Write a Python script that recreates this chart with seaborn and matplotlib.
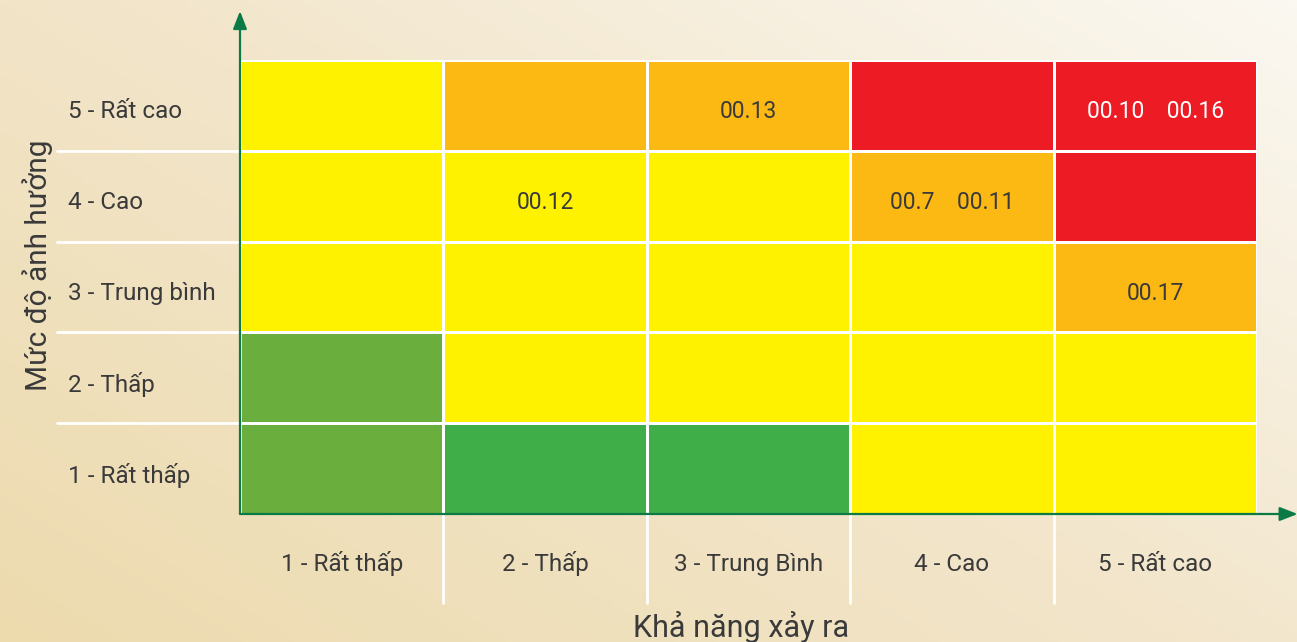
import numpy as np
import pandas as pd
import matplotlib.pyplot as plt
import seaborn as sns
from matplotlib.colors import ListedColormap, LinearSegmentedColormap
from matplotlib.transforms import ScaledTranslation

# y: impact (top to bottom), x: likelihood
impact_labels = ["5 - Rất cao", "4 - Cao", "3 - Trung bình", "2 - Thấp", "1 - Rất thấp"]
likelihood_labels = ["1 - Rất thấp", "2 - Thấp", "3 - Trung Bình", "4 - Cao", "5 - Rất cao"]

# risk level per cell: 0 light green, 1 green, 2 yellow, 3 orange, 4 red
row_5 = [2, 3, 3, 4, 4]
row_4 = [2, 2, 2, 3, 4]
row_3 = [2, 2, 2, 2, 3]
row_2 = [0, 2, 2, 2, 2]
row_1 = [0, 1, 1, 2, 2]

# risk codes placed in cells
codes_5 = ["", "", "00.13", "", "00.10    00.16"]
codes_4 = ["", "00.12", "", "00.7    00.11", ""]
codes_3 = ["", "", "", "", "00.17"]
codes_2 = ["", "", "", "", ""]
codes_1 = ["", "", "", "", ""]

level_colors = ["#6AAE3E", "#3FAE49", "#FFF200", "#FDB913", "#ED1C24"]
text_dark = "#3A3A3A"
axis_green = "#0B7A46"

levels = pd.DataFrame([row_5, row_4, row_3, row_2, row_1],
                      index=impact_labels, columns=likelihood_labels)
codes = np.array([codes_5, codes_4, codes_3, codes_2, codes_1], dtype=object)

sns.set_theme(style="white")
plt.rcParams['font.family'] = ['Roboto', 'DejaVu Sans']

fig = plt.figure(figsize=(12.97, 6.42), dpi=100)

# background gradient
bg = fig.add_axes([0, 0, 1, 1])
gx, gy = np.meshgrid(np.linspace(0, 1, 300), np.linspace(0, 1, 150))
grad = np.clip(0.55 * gx + 0.45 * (1 - gy), 0, 1)
bg_cmap = LinearSegmentedColormap.from_list("bg", ["#EDDBAE", "#F2E5CA", "#FBF8F1"])
bg.imshow(grad, cmap=bg_cmap, aspect="auto", extent=[0, 1, 0, 1], origin="upper")
bg.axis("off")

W, H = 1297, 642
left, right, top, bottom = 240, 1257, 60, 514
ax = fig.add_axes([left / W, 1 - bottom / H, (right - left) / W, (bottom - top) / H])

sns.heatmap(levels, ax=ax, cmap=ListedColormap(level_colors), vmin=-0.5, vmax=4.5,
            cbar=False, linewidths=2, linecolor="white",
            annot=codes, fmt="", annot_kws={"fontsize": 16.5, "va": "center_baseline"})

down = ScaledTranslation(0, -4 / 100, fig.dpi_scale_trans)
for t in ax.texts:
    x, y = t.get_position()
    lvl = levels.iloc[int(y), int(x)]
    t.set_color("white" if lvl == 4 else text_dark)
    t.set_transform(t.get_transform() + down)

# tick labels
ax.tick_params(axis="both", length=0)
ax.tick_params(axis="y", pad=124)
ax.tick_params(axis="x", pad=41)
ax.set_yticklabels(impact_labels, rotation=0, ha="left", va="center_baseline",
                   fontsize=17.5, color=text_dark)
ax.set_xticklabels(likelihood_labels, rotation=0, va="baseline",
                   fontsize=17.5, color=text_dark)
for lab in ax.get_yticklabels():
    lab.set_transform(lab.get_transform() + down)
ax.set_xlabel("")
ax.set_ylabel("")

# white guide lines outside the grid
for r in range(1, 5):
    ax.plot([-0.9, 0], [r, r], color="white", lw=2, clip_on=False)
for c in range(1, 5):
    ax.plot([c, c], [5, 5.98], color="white", lw=2, clip_on=False)

# arrow axes
ax.annotate("", xy=(0, 1.108), xytext=(0, 0), xycoords="axes fraction",
            arrowprops=dict(arrowstyle="-|>,head_width=0.35,head_length=0.9",
                            color=axis_green, lw=1.6, shrinkA=0, shrinkB=0))
ax.annotate("", xy=(1.04, 0), xytext=(0, 0), xycoords="axes fraction",
            arrowprops=dict(arrowstyle="-|>,head_width=0.35,head_length=0.9",
                            color=axis_green, lw=1.6, shrinkA=0, shrinkB=0))

fig.text(741 / W, 1 - 627 / H, "Khả năng xảy ra", ha="center", va="center",
         fontsize=22, color=text_dark)
fig.text(38 / W, 1 - 265 / H, "Mức độ ảnh hưởng", ha="center", va="center",
         rotation=90, fontsize=21.5, color=text_dark)

fig.savefig("out.png", dpi=100)
